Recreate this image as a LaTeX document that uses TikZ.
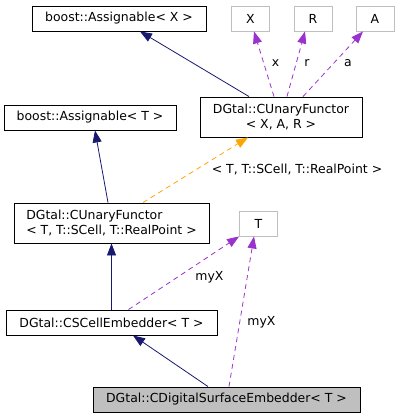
\documentclass[tikz,border=0pt]{standalone}
\usepackage{fontspec}
\setmainfont{DejaVu Sans}
\usetikzlibrary{positioning,arrows.meta,calc}
\definecolor{edgeblue}{HTML}{191970}
\definecolor{edgepurple}{HTML}{9A32CD}
\definecolor{edgeorange}{HTML}{FFA500}
\definecolor{boxgray}{HTML}{BFBFBF}

\begin{document}
\begin{tikzpicture}[x=1bp,y=-1bp,
  cls/.style={draw=black,line width=0.9bp,inner sep=0pt,font=\fontsize{12.5}{15}\selectfont},
  tmpl/.style={draw=boxgray,line width=0.9bp,inner sep=0pt,font=\fontsize{12.5}{15}\selectfont,minimum width=38bp,minimum height=25bp},
  inherit/.style={draw=edgeblue,line width=0.8bp,-{Triangle[length=12bp,width=9bp]}},
  usage/.style={draw=edgepurple,line width=0.8bp,dash pattern=on 5bp off 4bp,-{Triangle[length=12bp,width=9bp]}},
  tmplinst/.style={draw=edgeorange,line width=0.8bp,dash pattern=on 5bp off 4bp,-{Triangle[length=12bp,width=9bp]}},
  lbl/.style={font=\fontsize{12.5}{15}\selectfont,inner sep=0pt}]
\useasboundingbox (0,0) rectangle (401,419);
% ---- top row ----
\node[cls,minimum width=174bp,minimum height=25bp] (asgX) at (119,18.5) {boost::Assignable< X >};
\node[tmpl] (tX) at (250.5,18.5) {X};
\node[tmpl] (tR) at (313,18.5) {R};
\node[tmpl] (tA) at (375,18.5) {A};
% ---- functor and assignable ----
\node[cls,minimum width=162bp,minimum height=40bp,align=center] (cufXAR) at (281,117) {DGtal::CUnaryFunctor\\< X, A, R >};
\node[cls,minimum width=172bp,minimum height=25bp] (asgT) at (90,117.5) {boost::Assignable< T >};
\node[cls,minimum width=195bp,minimum height=40bp,align=left] (cufT) at (111.5,223) {DGtal::CUnaryFunctor\\< T, T::SCell, T::RealPoint >};
\node[tmpl] (tT) at (258.5,223.5) {T};
% ---- embedders ----
\node[cls,minimum width=211bp,minimum height=25bp] (cse) at (111.5,322.5) {DGtal::CSCellEmbedder< T >};
\node[cls,fill=boxgray,minimum width=267bp,minimum height=25bp] (cdse) at (226.5,399.5) {DGtal::CDigitalSurfaceEmbedder< T >};
% ---- edges ----
\draw[inherit] ([xshift=-32bp]cufXAR.north) -- ([xshift=21bp]asgX.south);
\draw[usage] ([xshift=-7bp]cufXAR.north) -- ([xshift=3.5bp]tX.south);
\draw[usage] ([xshift=6bp]cufXAR.north) -- ([xshift=-8bp]tR.south);
\draw[usage] ([xshift=22bp]cufXAR.north) -- ([xshift=-12bp]tA.south);
\node[lbl] (xlbl) at (275.5,63) {x};
\node[lbl] (rlbl) at (307,63) {r};
\node[lbl] (albl) at (348,63) {a};
\draw[inherit] ([xshift=-3.5bp]cufT.north) -- ([xshift=5bp]asgT.south);
\draw[tmplinst] ([xshift=31.5bp]cufT.north) -- ([xshift=-33bp]cufXAR.south);
\node[lbl] (instlbl) at (297,169.5) {< T, T::SCell, T::RealPoint >};
\draw[inherit] (cse.north) -- (cufT.south);
\draw[usage] ([xshift=17bp]cse.north) -- (tT.south west);
\node[lbl] (myxa) at (209.5,277) {myX};
\draw[usage] ([xshift=2.5bp]cdse.north) -- ([xshift=-4.5bp]tT.south);
\node[lbl] (myxb) at (261.5,322) {myX};
\draw[inherit] ([xshift=-18.5bp]cdse.north) -- ([xshift=21.5bp]cse.south);
\end{tikzpicture}
\end{document}
